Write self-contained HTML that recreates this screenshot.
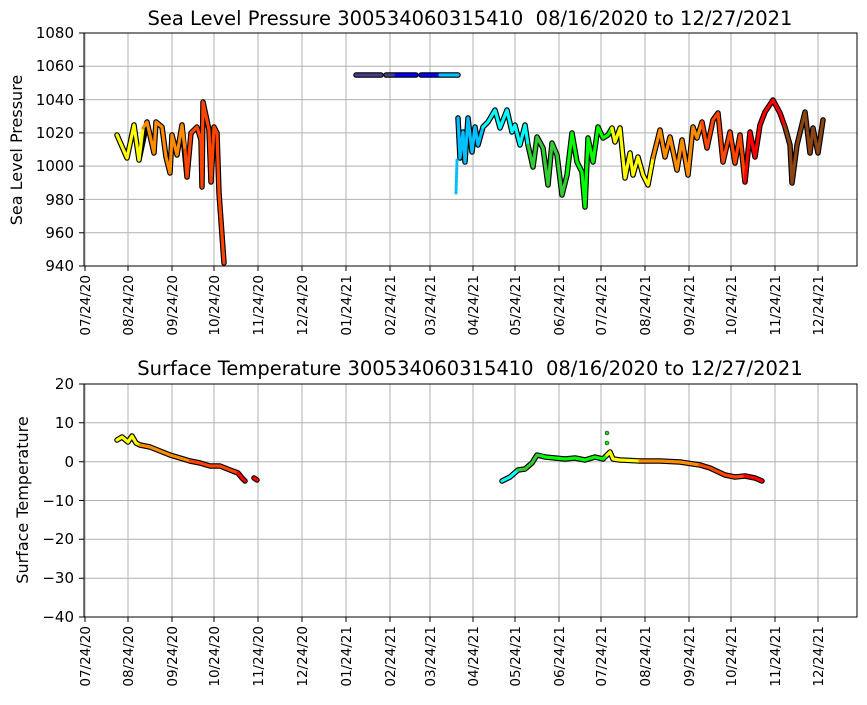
<!DOCTYPE html>
<html><head><style>body{margin:0;background:#fff}svg{font-family:"DejaVu Sans","Liberation Sans",sans-serif}</style></head>
<body>
<svg width="867" height="700" viewBox="0 0 867 700" xmlns="http://www.w3.org/2000/svg">
<g stroke="#b0b0b0" stroke-width="1">
<path d="M85,33V266M128,33V266M172,33V266M214,33V266M258,33V266M302,33V266M346,33V266M390,33V266M430,33V266M473,33V266M515,33V266M559,33V266M601,33V266M645,33V266M689,33V266M731,33V266M775,33V266M818,33V266"/>
<path d="M84,66.3H857M84,99.6H857M84,132.9H857M84,166.1H857M84,199.4H857M84,232.7H857"/>
<path d="M85,384V617M128,384V617M172,384V617M214,384V617M258,384V617M302,384V617M346,384V617M390,384V617M430,384V617M473,384V617M515,384V617M559,384V617M601,384V617M645,384V617M689,384V617M731,384V617M775,384V617M818,384V617"/>
<path d="M84,422.8H857M84,461.7H857M84,500.5H857M84,539.3H857M84,578.2H857"/>
</g>
<g fill="none" stroke-linejoin="round" stroke-linecap="round">
<g stroke="#000" stroke-width="5.5">
<polyline points="117,135 127,158 134,125 139,160 147,122 154,153 156,122 162,127 166,157 170,173 172,135 177,155 182,125 187,177 191,133 197,127 201,140 202,187 203,102 209,130 211,182 214,127 217,133 219,193 224,263"/>
<polyline points="356,75 381,75"/><polyline points="386,75 416,75"/><polyline points="421,75 458,75"/>
<polyline points="458,118 460,158 463,132 465,162 468,118 472,152 475,127 478,145 483,127 488,122 495,110 500,128 507,110 512,132 515,125 520,145 525,125 528,145 533,167 537,137 543,148 548,185 552,143 557,155 562,195 567,175 572,133 577,162 582,172 585,207 588,138 593,162 598,127 603,138 608,135 612,128 615,142 620,128 625,178 630,153 633,175 638,157 643,175 648,185 653,158 660,130 665,157 670,137 677,170 682,140 688,175 693,127 697,138 702,122 707,148 713,120 718,113 723,162 730,132 735,163 740,135 745,182 750,132 755,157 760,125 765,112 773,100 780,113 785,127 790,145 792,183 797,145 805,112 810,153 813,128 818,153 823,120"/>
</g>
<g stroke-width="3.2">
<polyline stroke="#ffff00" points="117,135 127,158 134,125 139,160 143,128"/>
<polyline stroke="#ff8c00" points="143,128 147,122 154,153 156,122 162,127 166,157 170,173 172,135 177,155 182,125 185,150"/>
<polyline stroke="#ff4500" points="185,150 187,177 191,133 197,127 201,140 202,187 203,102 209,130 211,182 214,127 217,133 219,193 224,263"/>
<polyline stroke="#483d8b" points="356,75 381,75"/><polyline stroke="#483d8b" points="386,75 396,75"/><polyline stroke="#0000ff" points="396,75 416,75"/>
<polyline stroke="#0000ff" points="421,75 440,75"/><polyline stroke="#00bfff" points="440,75 458,75"/>
<polyline stroke="#00bfff" points="458,118 460,158 463,132 465,162 468,118 472,152 475,127 478,145 483,127"/>
<polyline stroke="#00ffff" points="483,127 488,122 495,110 500,128 507,110 512,132 515,125 520,145 525,125 528,145"/>
<polyline stroke="#32cd32" points="528,145 533,167 537,137 543,148 548,185 552,143 557,155 562,195 567,175"/>
<polyline stroke="#00ff00" points="567,175 572,133 577,162 582,172 585,207 588,138 593,162 598,127 603,138 608,135 612,128"/>
<polyline stroke="#ffff00" points="612,128 615,142 620,128 625,178 630,153 633,175 638,157 643,175 648,185 653,158"/>
<polyline stroke="#ff8c00" points="653,158 660,130 665,157 670,137 677,170 682,140 688,175 693,127 697,138 702,122"/>
<polyline stroke="#ff4500" points="702,122 707,148 713,120 718,113 723,162 730,132 735,163 740,135 745,182"/>
<polyline stroke="#ff0000" points="745,182 750,132 755,157 760,125 765,112 773,100 780,113 785,127"/>
<polyline stroke="#8b4513" points="785,127 790,145 792,183 797,145 805,112 810,153 813,128 818,153 823,120"/>
</g>
<line x1="457" y1="160" x2="456" y2="193" stroke="#00bfff" stroke-width="3" stroke-dasharray="2 2"/>
<g stroke="#000" stroke-width="5.5">
<polyline points="117,440 122,437 128,442 132,436 136,443 140,445 150,447 160,451 170,455 180,458 190,461 200,463 210,466 220,466 230,470 238,473 242,478 245,481"/>
<polyline points="254,478 257,480"/>
<polyline points="502,481 510,477 518,470 525,469 532,463 537,455 545,457 555,458 565,459 575,458 585,460 595,457 603,459 607,455 610,452 613,459 620,460 640,461 660,461 680,462 700,465 710,468 725,475 735,477 745,476 755,478 762,481"/>
</g>
<g stroke-width="3.2">
<polyline stroke="#ffff00" points="117,440 122,437 128,442 132,436 136,443 140,445"/>
<polyline stroke="#ff8c00" points="140,445 150,447 160,451 170,455 180,458 190,461"/>
<polyline stroke="#ff4500" points="190,461 200,463 210,466 220,466 230,470 238,473"/>
<polyline stroke="#ff0000" points="238,473 242,478 245,481"/>
<polyline stroke="#ff0000" points="254,478 257,480"/>
<polyline stroke="#00ffff" points="502,481 510,477 518,470"/>
<polyline stroke="#32cd32" points="518,470 525,469 532,463 537,455 542,456"/>
<polyline stroke="#00ff00" points="542,456 545,457 555,458 565,459 575,458 585,460 595,457 603,459 607,455"/>
<polyline stroke="#ffff00" points="607,455 610,452 613,459 620,460 640,461"/>
<polyline stroke="#ff8c00" points="640,461 660,461 680,462 700,465"/>
<polyline stroke="#ff4500" points="700,465 710,468 725,475 735,477 745,476"/>
<polyline stroke="#ff0000" points="745,476 755,478 762,481"/>
</g>
<circle cx="607" cy="433" r="2" fill="#32cd32" stroke="#000" stroke-width=".5"/>
<circle cx="607" cy="443" r="2" fill="#00ff00" stroke="#000" stroke-width=".5"/>
</g>
<rect x="84" y="33" width="773" height="233" fill="none" stroke="#000" stroke-width="1"/>
<rect x="84" y="384" width="773" height="233" fill="none" stroke="#000" stroke-width="1"/>
<g stroke="#000">
<path d="M79,33H84M79,66.3H84M79,99.6H84M79,132.9H84M79,166.1H84M79,199.4H84M79,232.7H84M79,266H84"/>
<path d="M79,384H84M79,422.8H84M79,461.7H84M79,500.5H84M79,539.3H84M79,578.2H84M79,617H84"/>
<path d="M85,266v5M128,266v5M172,266v5M214,266v5M258,266v5M302,266v5M346,266v5M390,266v5M430,266v5M473,266v5M515,266v5M559,266v5M601,266v5M645,266v5M689,266v5M731,266v5M775,266v5M818,266v5"/>
<path d="M85,617v5M128,617v5M172,617v5M214,617v5M258,617v5M302,617v5M346,617v5M390,617v5M430,617v5M473,617v5M515,617v5M559,617v5M601,617v5M645,617v5M689,617v5M731,617v5M775,617v5M818,617v5"/>
</g>
<g font-size="15" text-anchor="end" fill="#000">
<text x="74" y="38">1080</text><text x="74" y="71">1060</text><text x="74" y="105">1040</text><text x="74" y="138">1020</text><text x="74" y="171">1000</text><text x="74" y="205">980</text><text x="74" y="238">960</text><text x="74" y="271">940</text>
<text x="74" y="389">20</text><text x="74" y="428">10</text><text x="74" y="467">0</text><text x="74" y="506">−10</text><text x="74" y="544">−20</text><text x="74" y="583">−30</text><text x="74" y="622">−40</text>
</g>
<g font-size="13.5" text-anchor="end" fill="#000">
<g transform="translate(0,275)">
<text transform="translate(90,0) rotate(-90)">07/24/20</text><text transform="translate(133,0) rotate(-90)">08/24/20</text><text transform="translate(177,0) rotate(-90)">09/24/20</text><text transform="translate(219,0) rotate(-90)">10/24/20</text><text transform="translate(263,0) rotate(-90)">11/24/20</text><text transform="translate(307,0) rotate(-90)">12/24/20</text><text transform="translate(351,0) rotate(-90)">01/24/21</text><text transform="translate(395,0) rotate(-90)">02/24/21</text><text transform="translate(435,0) rotate(-90)">03/24/21</text><text transform="translate(478,0) rotate(-90)">04/24/21</text><text transform="translate(520,0) rotate(-90)">05/24/21</text><text transform="translate(564,0) rotate(-90)">06/24/21</text><text transform="translate(606,0) rotate(-90)">07/24/21</text><text transform="translate(650,0) rotate(-90)">08/24/21</text><text transform="translate(694,0) rotate(-90)">09/24/21</text><text transform="translate(736,0) rotate(-90)">10/24/21</text><text transform="translate(780,0) rotate(-90)">11/24/21</text><text transform="translate(823,0) rotate(-90)">12/24/21</text>
</g>
<g transform="translate(0,626)">
<text transform="translate(90,0) rotate(-90)">07/24/20</text><text transform="translate(133,0) rotate(-90)">08/24/20</text><text transform="translate(177,0) rotate(-90)">09/24/20</text><text transform="translate(219,0) rotate(-90)">10/24/20</text><text transform="translate(263,0) rotate(-90)">11/24/20</text><text transform="translate(307,0) rotate(-90)">12/24/20</text><text transform="translate(351,0) rotate(-90)">01/24/21</text><text transform="translate(395,0) rotate(-90)">02/24/21</text><text transform="translate(435,0) rotate(-90)">03/24/21</text><text transform="translate(478,0) rotate(-90)">04/24/21</text><text transform="translate(520,0) rotate(-90)">05/24/21</text><text transform="translate(564,0) rotate(-90)">06/24/21</text><text transform="translate(606,0) rotate(-90)">07/24/21</text><text transform="translate(650,0) rotate(-90)">08/24/21</text><text transform="translate(694,0) rotate(-90)">09/24/21</text><text transform="translate(736,0) rotate(-90)">10/24/21</text><text transform="translate(780,0) rotate(-90)">11/24/21</text><text transform="translate(823,0) rotate(-90)">12/24/21</text>
</g>
</g>
<g font-size="16" text-anchor="middle" fill="#000">
<text transform="translate(22,150) rotate(-90)">Sea Level Pressure</text>
<text transform="translate(28,500) rotate(-90)">Surface Temperature</text>
</g>
<g font-size="19.5" text-anchor="middle" fill="#000">
<text x="470" y="25">Sea Level Pressure 300534060315410&#160; 08/16/2020 to 12/27/2021</text>
<text x="470" y="375">Surface Temperature 300534060315410&#160; 08/16/2020 to 12/27/2021</text>
</g>
</svg>
</body></html>
